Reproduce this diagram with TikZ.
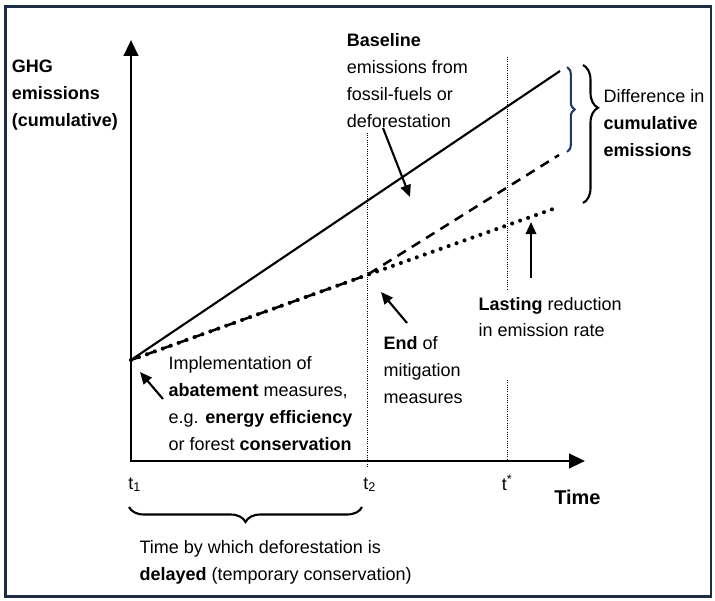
\documentclass[tikz,border=0pt]{standalone}
\usepackage{fontspec}
\setmainfont{Liberation Sans}
\usepackage{tikz}
\usetikzlibrary{arrows.meta, decorations.pathreplacing}
\definecolor{FrameNavy}{RGB}{31,45,68}
\definecolor{BraceBlue}{RGB}{31,56,100}

\begin{document}
\begin{tikzpicture}[txt/.style={anchor=north west, inner sep=0pt, align=left, font=\fontsize{12.8}{19.2}\selectfont},
	tlabel/.style={anchor=base west, inner sep=0pt, font=\fontsize{12.8}{19.2}\selectfont},
	axis/.style={line width=2.1pt, {Triangle[length=4mm, width=3.6mm]}-{Triangle[length=4mm, width=3.6mm]}},
	pointer/.style={line width=1.5pt, -{Triangle[length=3mm, width=2.6mm]}},
	guide/.style={densely dotted, line width=0.6pt},
	curly/.style={line width=1.5pt, decorate}]
	\useasboundingbox (0,0) rectangle (17.875,15);
	\draw[color=FrameNavy, line width=2.1pt] (0.1375,0.0875) rectangle (17.775,14.8375);
	\coordinate (O) at (3.275,3.475);
	\coordinate (ytop) at (3.275,14);
	\coordinate (xend) at (14.625,3.475);
	\coordinate (S) at (3.275,6);
	\coordinate (B) at (14,13.225);
	\coordinate (M) at (9.175,8.125);
	\coordinate (D) at (13.975,11.125);
	\coordinate (P) at (13.825,9.775);
	\coordinate (t2top) at (9.175,11.675);
	\coordinate (t2bot) at (9.175,3.3);
	\coordinate (tstop) at (12.675,13.575);
	\coordinate (tsmid1) at (12.675,7.75);
	\coordinate (tsmid2) at (12.675,5.5);
	\coordinate (tsbot) at (12.675,3.475);
	\draw[guide] (t2top) -- (t2bot);
	\draw[guide] (tstop) -- (tsmid1);
	\draw[guide] (tsmid2) -- (tsbot);
	\draw[axis] (ytop) -- (O) -- (xend);
	\draw[line width=1.5pt] (S) -- (B);
	\draw[line width=1.8pt, dash pattern=on 7pt off 5pt] (S) -- (M) -- (D);
	\draw[line width=2.9pt, line cap=round, dash pattern=on 0pt off 6pt] (S) -- (M) -- (P);
	\node[txt] (ghg) at (0.29,13.5175) {\textbf{GHG}\\\textbf{emissions}\\\textbf{(cumulative)}};
	\node[txt] (base) at (8.667,14.1675) {\textbf{Baseline}\\emissions from\\fossil-fuels or\\deforestation};
	\node[txt] (diff) at (15.083,12.7675) {Difference in\\\textbf{cumulative}\\\textbf{emissions}};
	\node[txt] (impl) at (4.208,6.1) {Implementation of\\\textbf{abatement} measures,\\e.g. \textbf{energy efficiency}\\or forest \textbf{conservation}};
	\node[txt] (end) at (9.583,6.6) {\textbf{End} of\\mitigation\\measures};
	\node[txt] (lasting) at (11.958,7.583) {\textbf{Lasting} reduction\\in emission rate};
	\node[txt] (delay) at (3.483,1.5) {Time by which deforestation is\\\textbf{delayed} (temporary conservation)};
	\node[anchor=north west, inner sep=0pt, font=\bfseries\fontsize{14.2}{17}\selectfont] (time) at (13.85,2.7675) {Time};
	\node[tlabel] (t1) at (3.2,2.775) {t\textsubscript{1}};
	\node[tlabel] (t2) at (9.075,2.775) {t\textsubscript{2}};
	\node[tlabel] (ts) at (12.54,2.75) {t\textsuperscript{*}};
	\draw[curly, decoration={brace, mirror, amplitude=0.375cm}] (3.225,2.325) -- (9.05,2.325);
	\draw[curly, BraceBlue, decoration={brace, amplitude=0.19cm}] (14.175,13.325) -- (14.175,11.2);
	\draw[curly, decoration={brace, amplitude=0.375cm, aspect=0.31}] (14.575,13.375) -- (14.575,9.925);
	\coordinate (bltail) at (9.575,11.8);
	\coordinate (bltip) at (10.25,10.075);
	\coordinate (endtail) at (10.175,6.925);
	\coordinate (endtip) at (9.525,7.7);
	\coordinate (lasttail) at (13.275,8.05);
	\coordinate (lasttip) at (13.275,9.45);
	\coordinate (impltail) at (4.075,5.025);
	\coordinate (impltip) at (3.5,5.7);
	\draw[pointer] (bltail) -- (bltip);
	\draw[pointer] (endtail) -- (endtip);
	\draw[pointer] (lasttail) -- (lasttip);
	\draw[pointer] (impltail) -- (impltip);
\end{tikzpicture}
\end{document}
